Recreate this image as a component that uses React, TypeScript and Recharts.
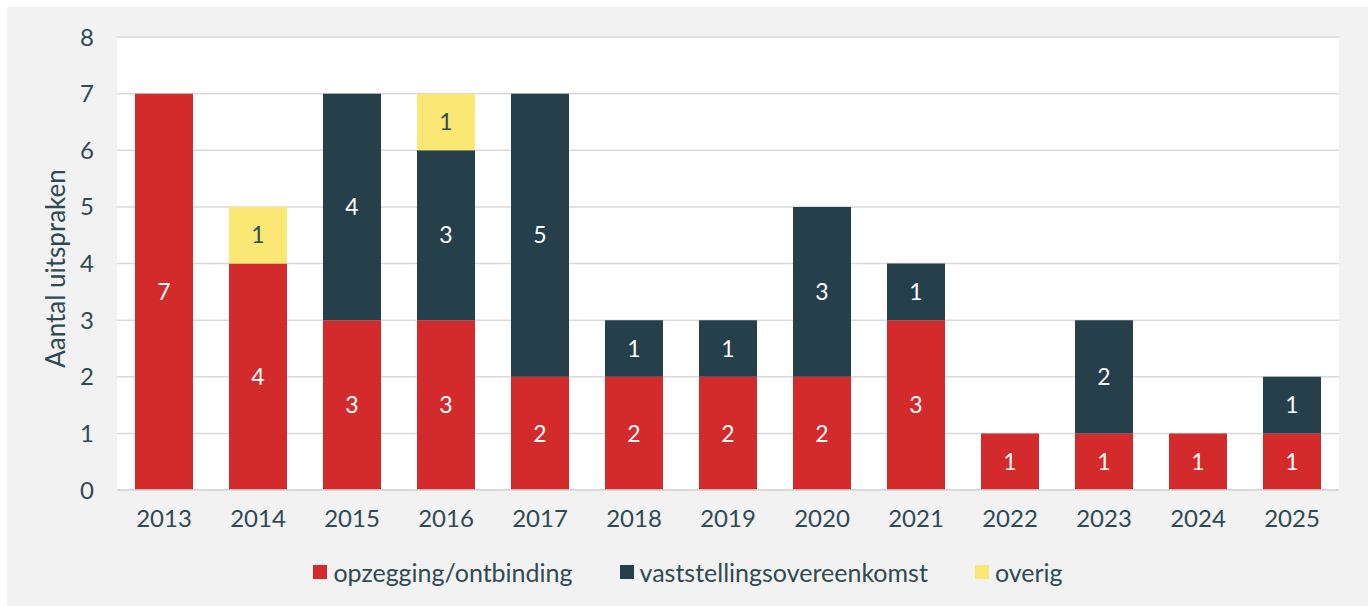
import React from 'react';
import {
  BarChart, Bar, XAxis, YAxis, CartesianGrid, Legend, LabelList,
} from 'recharts';

const years = ['2013', '2014', '2015', '2016', '2017', '2018', '2019', '2020', '2021', '2022', '2023', '2024', '2025'];
const opzegging = [7, 4, 3, 3, 2, 2, 2, 2, 3, 1, 1, 1, 1];
const vaststelling = [0, 0, 4, 3, 5, 1, 1, 3, 1, 0, 2, 0, 1];
const overig = [0, 1, 0, 1, 0, 0, 0, 0, 0, 0, 0, 0, 0];
const yTicks = [0, 1, 2, 3, 4, 5, 6, 7, 8];

const series = [
  { key: 'opzegging', name: 'opzegging/ontbinding', color: '#d32b2b' },
  { key: 'vaststelling', name: 'vaststellingsovereenkomst', color: '#25404a' },
  { key: 'overig', name: 'overig', color: '#fbe774' },
];

const data = years.map((year, i) => ({
  year,
  opzegging: opzegging[i],
  vaststelling: vaststelling[i],
  overig: overig[i],
}));

const textColor = '#2e4a53';
const font = 'Lato, "Open Sans", sans-serif';

function LegendContent() {
  return (
    <div style={{ display: 'flex', justifyContent: 'center', gap: 47, fontSize: 25, color: textColor, fontFamily: font, lineHeight: '30px' }}>
      {series.map(s => (
        <div key={s.key} style={{ display: 'flex', alignItems: 'center' }}>
          <span style={{ display: 'inline-block', width: 14, height: 14, background: s.color, marginRight: 6 }} />
          <span>{s.name}</span>
        </div>
      ))}
    </div>
  );
}

export default function App() {
  return (
    <div style={{ position: 'absolute', left: 7, top: 7, width: 1361, height: 599, background: '#f2f2f2', fontFamily: font }}>
      <BarChart
        width={1361}
        height={599}
        data={data}
        margin={{ top: 30, right: 29, left: 30, bottom: 36 }}
      >
        <CartesianGrid vertical={false} stroke="#d9d9d9" strokeWidth={1.5} fill="#ffffff" />
        <XAxis
          dataKey="year"
          axisLine={{ stroke: '#d9d9d9', strokeWidth: 1.5 }}
          tickLine={false}
          tickSize={0}
          tickMargin={20}
          height={50}
          tick={{ fill: textColor, fontSize: 24, fontFamily: font }}
        />
        <YAxis
          domain={[0, 8]}
          ticks={yTicks}
          axisLine={false}
          tickLine={false}
          tickSize={0}
          tickMargin={23}
          width={80}
          tick={{ fill: textColor, fontSize: 24, fontFamily: font }}
          label={{
            value: 'Aantal uitspraken',
            angle: -90,
            position: 'insideLeft',
            dx: 14,
            dy: 5,
            style: { fill: textColor, fontSize: 26, fontFamily: font, textAnchor: 'middle' },
          }}
        />
        <Legend content={<LegendContent />} verticalAlign="bottom" wrapperStyle={{ bottom: 19 }} />
        {series.map(s => (
          <Bar key={s.key} dataKey={s.key} name={s.name} stackId="a" fill={s.color} barSize={58} isAnimationActive={false}>
            <LabelList
              dataKey={s.key}
              position="center"
              fill={s.key === 'overig' ? textColor : '#ffffff'}
              fontSize={23}
              fontFamily={font}
              formatter={(v: any) => (v ? v : '')}
            />
          </Bar>
        ))}
      </BarChart>
    </div>
  );
}
